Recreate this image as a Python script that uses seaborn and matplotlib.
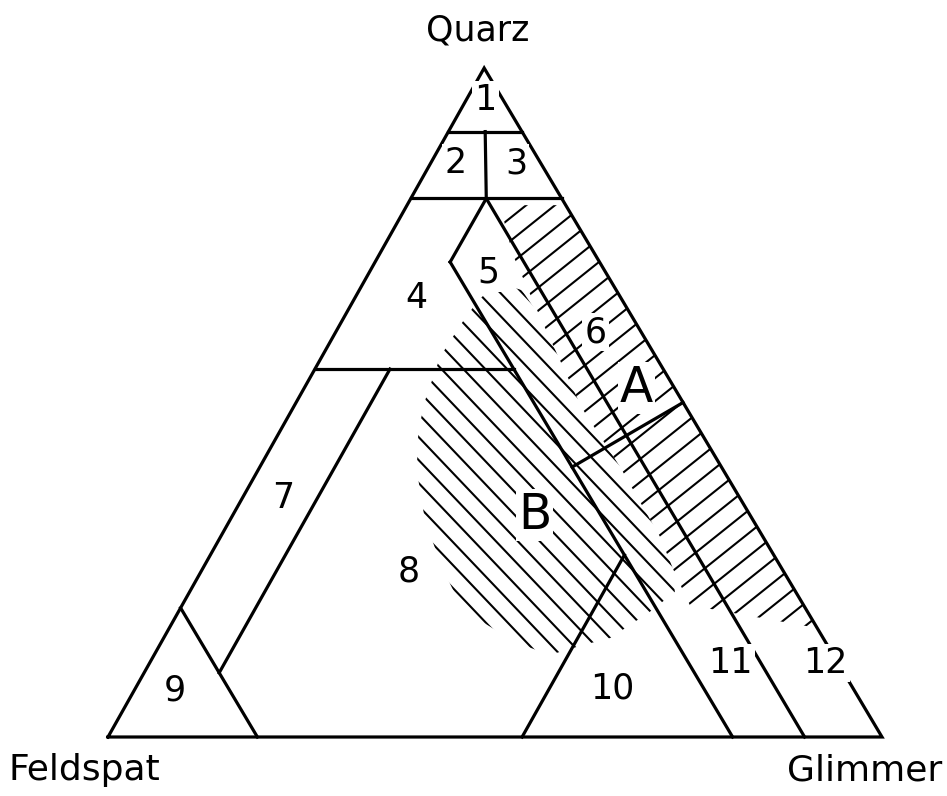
import numpy as np
import pandas as pd
import matplotlib
matplotlib.use("Agg")
import matplotlib.pyplot as plt
from matplotlib.patches import Polygon
from matplotlib.collections import LineCollection
import seaborn as sns

# ---------------- data: ternary compositions (Quarz fraction, Glimmer fraction) ----------------
outline       = [(0.0, 0.0), (0.0, 1.0), (1.0, 0.0), (0.0, 0.0)]
q90_line      = [(0.905, 0.0), (0.905, 0.095)]
q80_line      = [(0.805, 0.0), (0.805, 0.195)]
f_eq_g_line   = [(0.905, 0.0475), (0.805, 0.0975)]
field5_left   = [(0.805, 0.0975), (0.71, 0.097)]
f20_line      = [(0.71, 0.097), (0.0, 0.807)]
f10_line      = [(0.805, 0.0975), (0.0, 0.9)]
q55_line      = [(0.55, 0.0), (0.55, 0.257)]
q_eq_g_line   = [(0.4035, 0.4035), (0.5, 0.5)]
field10_left  = [(0.0, 0.535), (0.272, 0.535)]
field9_right  = [(0.193, 0.0), (0.0, 0.193)]
field7_right  = [(0.096, 0.097), (0.55, 0.097)]

hatch_A = [(0.795, 0.120), (0.7205, 0.173), (0.628, 0.253), (0.492, 0.373),
           (0.4036, 0.4655), (0.299, 0.568), (0.250, 0.609), (0.197, 0.656),
           (0.163, 0.837), (0.795, 0.205)]
hatch_B = [(0.679, 0.174), (0.668, 0.210), (0.628, 0.253), (0.492, 0.373),
           (0.4036, 0.4655), (0.299, 0.568), (0.250, 0.609), (0.2167, 0.627),
           (0.187, 0.609), (0.148, 0.577), (0.1375, 0.547), (0.1226, 0.511),
           (0.142, 0.457), (0.190, 0.366), (0.254, 0.308), (0.324, 0.252),
           (0.399, 0.205), (0.459, 0.178), (0.504, 0.165), (0.568, 0.153),
           (0.616, 0.156), (0.653, 0.161)]

field_labels = ["1", "2", "3", "4", "5", "6", "7", "8", "9", "10", "11", "12"]
field_label_pos = [(0.952, 0.025), (0.858, 0.032), (0.858, 0.110), (0.656, 0.079),
                   (0.694, 0.154), (0.605, 0.336), (0.357, 0.053), (0.247, 0.268),
                   (0.070, 0.052), (0.073, 0.616), (0.111, 0.750), (0.111, 0.873)]
area_labels = ["A", "B"]
area_label_pos = [(0.522, 0.429), (0.332, 0.390)]

corner_labels = ["Quarz", "Feldspat", "Glimmer"]

# ---------------- layout ----------------
APEX_X, APEX_Y = 0.486, 0.8643   # drawn apex position (slightly skewed triangle)
PX = 774.0                        # pixels per data unit


def to_xy(points):
    arr = np.asarray(points, dtype=float)
    q, g = arr[:, 0], arr[:, 1]
    return g + q * APEX_X, q * APEX_Y


segments = {
    "outline": outline, "q90": q90_line, "q80": q80_line, "feqg": f_eq_g_line,
    "f5": field5_left, "f20": f20_line, "f10": f10_line, "q55": q55_line,
    "qeqg": q_eq_g_line, "f10l": field10_left, "f9": field9_right, "f7": field7_right,
}
rows = []
for name, pts in segments.items():
    x, y = to_xy(pts)
    for i, (xi, yi) in enumerate(zip(x, y)):
        rows.append({"seg": name, "order": i, "x": xi, "y": yi})
df = pd.DataFrame(rows)

sns.set_style("white")
plt.rcParams["font.family"] = ["DejaVu Sans"]
plt.rcParams["text.color"] = "black"

fig = plt.figure(figsize=(9.47, 7.96), dpi=100)
ax = fig.add_axes([0, 0, 1, 1])


def hatch_area(poly, slope, spacing_px, lw):
    x, y = to_xy(poly)
    patch = Polygon(np.column_stack([x, y]), closed=True, facecolor="none",
                    edgecolor="none", transform=ax.transData)
    ax.add_patch(patch)
    c = y - slope * x
    sp = spacing_px / PX
    x0, x1 = x.min() - 0.05, x.max() + 0.05
    offs = np.arange(c.min() + sp / 2, c.max(), sp)
    segs = [[(x0, slope * x0 + o), (x1, slope * x1 + o)] for o in offs]
    lc = LineCollection(segs, colors="black", linewidths=lw, zorder=1)
    ax.add_collection(lc)
    lc.set_clip_path(patch)


hatch_area(hatch_A, 0.8, 23.0, 1.5)
hatch_area(hatch_B, -1.05, 23.0, 1.5)

sns.lineplot(data=df, x="x", y="y", units="seg", estimator=None, sort=False,
             color="black", linewidth=2.3, legend=False, ax=ax, zorder=3)
for line in ax.get_lines():
    line.set_solid_capstyle("projecting")
    line.set_solid_joinstyle("miter")

bb = dict(facecolor="white", edgecolor="none", pad=1.5)
for lab, pos in zip(field_labels, field_label_pos):
    x, y = to_xy([pos])
    ax.text(x[0], y[0], lab, ha="center", va="center", fontsize=25, zorder=4, bbox=bb)
for lab, pos in zip(area_labels, area_label_pos):
    x, y = to_xy([pos])
    ax.text(x[0], y[0], lab, ha="center", va="center", fontsize=35, zorder=4, bbox=bb)

ax.text(0.478, 0.913, corner_labels[0], ha="center", va="center", fontsize=25)
ax.text(-0.031, -0.043, corner_labels[1], ha="center", va="center", fontsize=26)
ax.text(0.977, -0.043, corner_labels[2], ha="center", va="center", fontsize=26)

ax.set_xlim(-108 / PX, 839 / PX)
ax.set_ylim(-59 / PX, 737 / PX)
ax.set_axis_off()

fig.savefig("out.png", dpi=100)
